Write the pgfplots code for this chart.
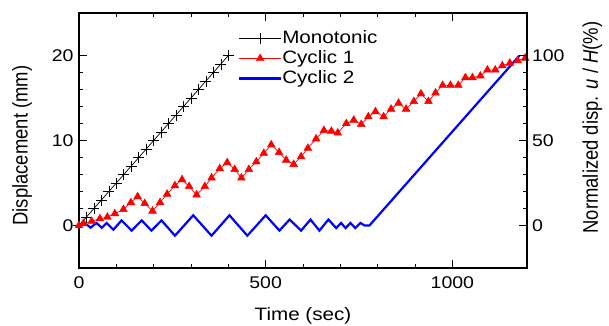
\documentclass[border=0pt]{standalone}
\usepackage{fontspec}
\setmainfont[FakeStretch=1.15]{Liberation Sans}
\newfontfamily\ylabfont{Liberation Sans}
\usepackage{graphicx}
\usepackage{pgfplots}
\pgfplotsset{compat=1.18}
\begin{document}
\begin{tikzpicture}
\pgfplotsset{
  common/.style={
    scale only axis, width=448bp, height=255bp,
    xmin=0, xmax=1200,
    tick align=inside,
    major tick length=8bp, minor tick length=4bp,
    every tick/.style={black, line width=0.8bp},
    axis line style={line width=1.7bp, -},
    /pgf/number format/assume math mode=true,
    /pgf/number format/set thousands separator={},
    ticklabel style={font=\fontsize{17}{17}\selectfont},
  }
}
\begin{axis}[common,
  name=main,
  ymin=-5, ymax=25,
  xtick={0,500,1000}, ytick={0,10,20},
  minor x tick num=4, minor y tick num=4,
  ytick pos=left,
  xticklabel style={yshift=-5.5bp},
  yticklabel style={xshift=-2bp},
  xlabel={Time (sec)},
  every axis x label/.style={at={(rel axis cs:0.5,-0.205)}, anchor=base, font=\fontsize{18}{18}\selectfont},
  ylabel={\ylabfont\scalebox{1}[1.15]{Displacement (mm)}},
  every axis y label/.style={at={(rel axis cs:-0.127,0.48)}, rotate=90, anchor=center, font=\fontsize{18.5}{18.5}\selectfont},
  legend style={at={(rel axis cs:0.348,0.94)}, anchor=north west, draw=none, fill=none,
    font=\fontsize{18}{18}\selectfont, row sep=4bp,
    nodes={inner xsep=0bp, inner ysep=0bp, text height=13bp, text depth=3bp}},
  legend cell align=left,
  legend image code/.code={\draw[mark repeat=2,mark phase=2,#1] plot coordinates {(0bp,0bp)(21bp,0bp)(42bp,0bp)};},
]
\coordinate (SW) at (rel axis cs:0,0);
\coordinate (NE) at (rel axis cs:1,1);
\addplot[black, line width=0.7bp, mark=+, mark size=5.5bp, mark options={line width=0.7bp}] coordinates {
(0,0)(20,1)(40,2)(60,3)(80,4)(100,5)(120,6)(140,7)(160,8)(180,9)(200,10)
(220,11)(240,12)(260,13)(280,14)(300,15)(320,16)(340,17)(360,18)(380,19)(400,20)};
\addlegendentry{Monotonic}
\addplot[red, line width=0.7bp, mark=triangle*, mark size=4.5bp, mark options={fill=red, draw=red, line width=0.4bp}] coordinates {
(0,0)(12,0.25)(34,0.5)(56,0.8)(76,1.0)(96,1.4)(119,1.9)(139,2.7)(157,3.4)(176,2.6)(197,1.7)
(217,2.7)(236,3.7)(257,4.7)(276,5.4)(295,4.6)(315,3.6)(337,4.6)(355,5.6)(377,6.7)(397,7.4)
(417,6.6)(435,5.6)(455,6.6)(475,7.5)(495,8.5)(515,9.5)(536,8.6)(555,7.7)(575,7.2)(595,8.1)
(613,9.1)(635,10.2)(656,11.2)(676,11.1)(693,10.9)(716,12.0)(736,12.4)(756,11.9)(775,12.8)
(794,13.4)(816,12.8)(836,13.7)(856,14.4)(876,13.7)(897,14.6)(916,15.5)(936,14.6)(955,15.6)
(974,16.5)(995,16.5)(1016,16.5)(1035,17.4)(1054,17.4)(1075,17.6)(1094,18.3)(1115,18.3)
(1134,18.8)(1154,19.1)(1175,19.4)(1195,19.7)};
\addlegendentry{Cyclic 1}
\addplot[blue, line width=2.2bp, no marks] coordinates {
(0,0)(16,0.25)(31,-0.25)(47,0.3)(61,-0.27)(74,0.3)(92,-0.5)(114,0.6)(141,-0.6)(168,0.6)
(194,-0.6)(221,0.6)(257,-1.2)(306,1.2)(355,-1.2)(403,1.2)(451,-1.2)(500,1.2)(537,-0.6)
(564,0.7)(595,-0.6)(620,0.7)(644,-0.6)(668,0.7)(689,-0.3)(702,0.3)(714,-0.3)(727,0.3)
(740,-0.3)(754,0.3)(765,0)(778,0)(1180,20)};
\addlegendentry{Cyclic 2}
\end{axis}
\begin{axis}[common,
  ymin=-25, ymax=125,
  axis x line=none, axis y line*=right,
  ytick={0,50,100}, minor y tick num=4,
  yticklabel style={xshift=1.5bp},
  ylabel={\ylabfont\scalebox{1}[1.15]{Normalized disp. \textit{u} / \textit{H}(\%)}},
  every axis y label/.style={at={(rel axis cs:1.146,0.551)}, rotate=90, anchor=center, font=\fontsize{18.5}{18.5}\selectfont},
]
\addplot[draw=none] coordinates {(0,0)};
\end{axis}
\pgfresetboundingbox
\useasboundingbox ([shift={(-79bp,-58bp)}]SW) rectangle ([shift={(82bp,13bp)}]NE);
\end{tikzpicture}
\end{document}
